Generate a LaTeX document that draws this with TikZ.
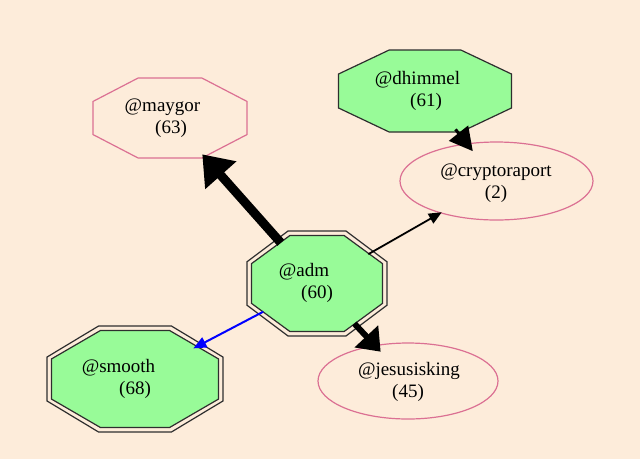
\documentclass[tikz,border=0pt]{standalone}
\usepackage{fontspec}
\setmainfont{Liberation Serif}
\usetikzlibrary{arrows.meta,shapes.geometric}
\definecolor{bg}{HTML}{FDECDA}
\definecolor{pg}{HTML}{98FB98}
\definecolor{pvr}{HTML}{DB7093}
\definecolor{ol}{HTML}{2E2E2E}
\newcommand\octpath[4]{(#1+#3,#2-0.414*#4) -- (#1+0.414*#3,#2-#4) -- (#1-0.414*#3,#2-#4) -- (#1-#3,#2-0.414*#4) -- (#1-#3,#2+0.414*#4) -- (#1-0.414*#3,#2+#4) -- (#1+0.414*#3,#2+#4) -- (#1+#3,#2+0.414*#4) -- cycle}
\tikzset{
  anchorshape/.style={ellipse, inner sep=0pt, outer sep=0pt, draw=none},
  ellnode/.style={ellipse, draw=pvr, line width=1.2pt, inner sep=0pt},
  lbl/.style={font=\fontsize{19}{22}\selectfont, inner sep=0pt, text height=13pt, text depth=4pt},
  octline/.style={draw=ol, line width=1.2pt, line join=miter},
  edge/.style={draw=black},
}
\begin{document}
\begin{tikzpicture}[x=1pt,y=-1pt]
\fill[bg] (0,0) rectangle (640,459);
\useasboundingbox (0,0) rectangle (640,459);

% octagon shapes
\draw[draw=pvr, line width=1.2pt] \octpath{170}{118}{77}{40};
\filldraw[octline, fill=pg] \octpath{425}{91}{86.5}{41};
\draw[octline] \octpath{317}{283.5}{70}{52.5};
\filldraw[octline, fill=pg] \octpath{317}{283.5}{65.5}{48};
\draw[octline] \octpath{135}{379}{88}{53};
\filldraw[octline, fill=pg] \octpath{135}{379}{83.5}{48.5};

% named nodes
\node[anchorshape, minimum width=154pt, minimum height=80pt] (maygor) at (170,118) {};
\node[anchorshape, minimum width=173pt, minimum height=82pt] (dhimmel) at (425,91) {};
\node[anchorshape, minimum width=140pt, minimum height=105pt] (adm) at (317,283.5) {};
\node[anchorshape, minimum width=176pt, minimum height=106pt] (smooth) at (135,379) {};
\node[ellnode, minimum width=193pt, minimum height=78pt] (crypto) at (496.5,181) {};
\node[ellnode, minimum width=180pt, minimum height=76pt] (jesus) at (408,381) {};

% labels
\node[lbl] (l1a) at (162.5,107) {@maygor};
\node[lbl] (l1b) at (171,129) {(63)};
\node[lbl] (l2a) at (417.5,80) {@dhimmel};
\node[lbl] (l2b) at (426,102) {(61)};
\node[lbl] (l3a) at (304,272) {@adm};
\node[lbl] (l3b) at (317,294) {(60)};
\node[lbl] (l4a) at (118.5,368) {@smooth};
\node[lbl] (l4b) at (135,390) {(68)};
\node[lbl] (l5a) at (496,172) {@cryptoraport};
\node[lbl] (l5b) at (496,194) {(2)};
\node[lbl] (l6a) at (409,371) {@jesusisking};
\node[lbl] (l6b) at (408,393) {(45)};

% edges
\draw[edge, line width=9pt, shorten <=-4pt, -{Triangle[length=28pt 0 0, width=40pt 0 0]}] (adm) -- (maygor);
\draw[edge, line width=6pt, shorten <=-4pt, shorten >=-9pt, -{Triangle[length=21pt 0 0, width=31pt 0 0]}] (adm) -- (jesus);
\draw[edge, line width=3pt, shorten >=-10pt, -{Triangle[length=23pt 0 0, width=24pt 0 0]}] (dhimmel) -- (crypto);
\draw[edge, line width=1.8pt, shorten <=-5pt, shorten >=-2pt, -{Triangle[length=13pt 0 0, width=11pt 0 0]}] (adm) -- (crypto);
\draw[edge, draw=blue, line width=2pt, shorten <=-4pt, shorten >=-9pt, -{Triangle[length=13pt 0 0, width=11pt 0 0]}] (adm) -- (smooth);
\end{tikzpicture}
\end{document}
